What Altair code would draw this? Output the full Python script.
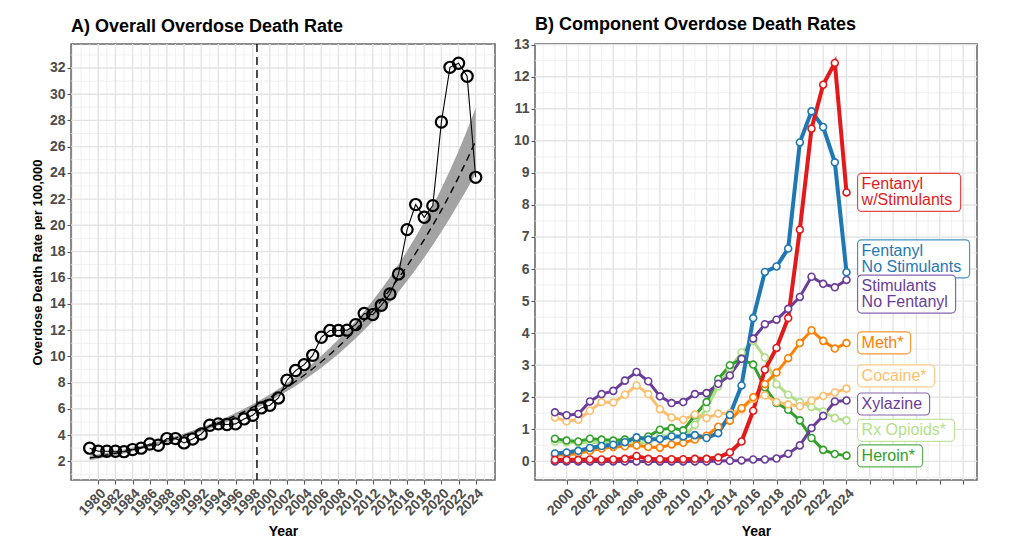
import altair as alt
import pandas as pd

FONT = "Liberation Sans"

# ---------------- Panel A data ----------------
years_a = list(range(1979, 2025))
overall_rate = [3.0, 2.76, 2.76, 2.76, 2.73, 2.89, 3.0, 3.32, 3.22, 3.73, 3.73, 3.40,
                3.70, 4.08, 4.75, 4.85, 4.80, 4.85, 5.23, 5.51, 6.07, 6.27, 6.83, 8.18,
                8.92, 9.37, 10.08, 11.46, 11.97, 11.97, 12.0, 12.42, 13.27, 13.19, 13.9,
                14.76, 16.29, 19.67, 21.58, 20.61, 21.5, 27.88, 32.05, 32.36, 31.37, 23.66]
trend_rate = [2.25, 2.36, 2.48, 2.61, 2.75, 2.9, 3.05, 3.22, 3.39, 3.57, 3.77, 3.97,
              4.19, 4.42, 4.66, 4.92, 5.19, 5.48, 5.79, 6.12, 6.47, 6.84, 7.23, 7.65,
              8.09, 8.56, 9.06, 9.59, 10.15, 10.74, 11.37, 12.03, 12.73, 13.47, 14.25,
              15.08, 15.96, 16.89, 17.87, 18.91, 20.0, 21.15, 22.37, 23.66, 25.02, 26.45]
ribbon_half = [0.18, 0.17, 0.16, 0.15, 0.15, 0.14, 0.14, 0.14, 0.14, 0.14, 0.14, 0.15,
               0.15, 0.16, 0.17, 0.18, 0.19, 0.2, 0.21, 0.22, 0.24, 0.26, 0.28, 0.31,
               0.34, 0.37, 0.41, 0.45, 0.5, 0.55, 0.6, 0.66, 0.72, 0.79, 0.87,
               0.95, 1.04, 1.14, 1.25, 1.37, 1.5, 1.65, 1.82, 2.0, 2.25, 2.5]
vline_year = [1998.5]

# ---------------- Panel B data ----------------
years_b = list(range(1999, 2025))
fent_stim = [0.05, 0.05, 0.05, 0.06, 0.06, 0.06, 0.08, 0.17, 0.08, 0.07, 0.07, 0.07, 0.08,
             0.08, 0.12, 0.28, 0.62, 1.58, 2.86, 3.54, 4.47, 7.23, 10.38, 11.75, 12.43, 8.39]
fent_nostim = [0.25, 0.28, 0.33, 0.42, 0.48, 0.52, 0.6, 0.75, 0.68, 0.7, 0.78, 0.78, 0.82,
               0.73, 0.88, 1.45, 2.37, 4.47, 5.91, 6.08, 6.64, 9.95, 10.92, 10.43, 9.33, 5.9]
stim_nofent = [1.53, 1.44, 1.48, 1.87, 2.10, 2.20, 2.52, 2.79, 2.50, 2.03, 1.82, 1.85, 2.10,
               2.13, 2.42, 2.68, 3.2, 3.83, 4.28, 4.42, 4.76, 5.13, 5.76, 5.54, 5.43, 5.66]
meth = [0.21, 0.2, 0.25, 0.33, 0.4, 0.45, 0.47, 0.5, 0.45, 0.43, 0.53, 0.58, 0.68,
        0.8, 1.08, 1.27, 1.66, 2.0, 2.41, 2.77, 3.22, 3.69, 4.09, 3.76, 3.52, 3.69]
cocaine = [1.37, 1.25, 1.3, 1.58, 1.85, 1.84, 2.08, 2.37, 2.1, 1.63, 1.37, 1.3, 1.46,
           1.35, 1.49, 1.5, 1.62, 1.95, 2.06, 1.85, 1.78, 1.72, 1.9, 2.04, 2.15, 2.27]
xylazine = [0.0, 0.0, 0.0, 0.0, 0.0, 0.0, 0.0, 0.0, 0.0, 0.0, 0.0, 0.0, 0.0,
            0.0, 0.01, 0.02, 0.03, 0.06, 0.06, 0.09, 0.24, 0.5, 1.04, 1.42, 1.87, 1.9]
rx_opioids = [0.62, 0.6, 0.58, 0.6, 0.58, 0.56, 0.55, 0.56, 0.6, 0.78, 0.82, 0.72, 1.14,
              1.66, 2.34, 2.91, 3.4, 3.76, 3.24, 2.41, 2.08, 1.85, 1.7, 1.56, 1.35, 1.28]
heroin = [0.71, 0.65, 0.62, 0.71, 0.68, 0.65, 0.68, 0.68, 0.78, 0.99, 1.04, 0.97, 1.44,
          1.85, 2.57, 3.0, 3.2, 3.02, 2.31, 1.82, 1.61, 1.28, 0.73, 0.36, 0.23, 0.18]

series_values = [rx_opioids, heroin, cocaine, meth, xylazine, stim_nofent, fent_nostim, fent_stim]
series_colors = ["#B2DF8A", "#33A02C", "#FDBF6F", "#FF7F00", "#6A3D9A", "#6A3D9A", "#1F78B4", "#E31A1C"]
series_widths = [3, 3, 3, 3, 3, 3, 4, 4]

label_text = ["Fentanyl\nw/Stimulants", "Fentanyl\nNo Stimulants", "Stimulants\nNo Fentanyl",
              "Meth*", "Cocaine*", "Xylazine", "Rx Opioids*", "Heroin*"]
label_colors = ["#E31A1C", "#1F78B4", "#6A3D9A", "#FF7F00", "#FDBF6F", "#6A3D9A", "#B2DF8A", "#33A02C"]
label_y = [8.39, 6.32, 5.22, 3.70, 2.67, 1.79, 0.97, 0.17]
label_box_w = [103, 112, 98, 53, 77, 72, 97, 65]
label_box_h = [38, 38, 38, 22, 22, 22, 22, 22]
label_x = 2024.95

# ---------------- layout ----------------
WA, WB, H = 424, 442, 436
xa_dom = [1976.82, 2026.25]
ya_dom = [0.57, 33.83]
xb_dom = [1997.29, 2035.19]
yb_dom = [-0.58, 13.02]

MAJ = "#E4E4E4"
MIN = "#EEEEEE"

xa_scale = alt.Scale(domain=xa_dom, nice=False, zero=False)
ya_scale = alt.Scale(domain=ya_dom, nice=False, zero=False)
xb_scale = alt.Scale(domain=xb_dom, nice=False, zero=False)
yb_scale = alt.Scale(domain=yb_dom, nice=False, zero=False)

xa_axis = alt.Axis(values=list(range(1980, 2025, 2)), format="d", labelAngle=315,
                   labelAlign="right", labelBaseline="top", title="Year", labelOverlap=False)
ya_axis = alt.Axis(values=list(range(2, 33, 2)), title="Overdose Death Rate per 100,000",
                   titlePadding=5, labelOverlap=False)
xb_axis = alt.Axis(values=list(range(2000, 2035, 2)), format="d", labelAngle=315,
                   labelAlign="right", labelBaseline="top", title="Year", labelOverlap=False,
                   labelExpr="datum.value <= 2024 ? datum.label : ''")
yb_axis = alt.Axis(values=list(range(0, 14)), title=None, labelOverlap=False)


def XA(f):
    return alt.X(f, type="quantitative", scale=xa_scale, axis=xa_axis)


def YA(f):
    return alt.Y(f, type="quantitative", scale=ya_scale, axis=ya_axis)


def XB(f):
    return alt.X(f, type="quantitative", scale=xb_scale, axis=xb_axis)


def YB(f):
    return alt.Y(f, type="quantitative", scale=yb_scale, axis=yb_axis)


def grid(X, Y, xmaj, xmin, ymaj, ymin):
    layers = []
    for vals, col, w, is_x in [(xmin, MIN, 0.8, True), (ymin, MIN, 0.8, False),
                               (xmaj, MAJ, 1.4, True), (ymaj, MAJ, 1.4, False)]:
        d = pd.DataFrame({"v": vals})
        m = alt.Chart(d).mark_rule(color=col, strokeWidth=w)
        layers.append(m.encode(x=X("v")) if is_x else m.encode(y=Y("v")))
    return layers


# ---------------- Panel A ----------------
df_a = pd.DataFrame({
    "year": years_a,
    "rate": overall_rate,
    "trend": trend_rate,
    "lo": [t - h for t, h in zip(trend_rate, ribbon_half)],
    "hi": [t + h for t, h in zip(trend_rate, ribbon_half)],
})
xa_major = list(range(1980, 2025, 2))
xa_minor = [v for v in range(1977, 2027) if v not in xa_major]
ya_major = list(range(2, 33, 2))
ya_minor = [v for v in range(1, 34) if v not in ya_major]

base_a = alt.Chart(df_a)
ribbon = base_a.mark_area(color="#A3A3A3", opacity=1).encode(x=XA("year"), y=YA("lo"), y2="hi")
trend = base_a.mark_line(color="black", strokeWidth=1.4, strokeDash=[7, 5]).encode(x=XA("year"), y=YA("trend"))
vline = alt.Chart(pd.DataFrame({"v": vline_year})).mark_rule(
    color="black", strokeWidth=1.4, strokeDash=[8, 5]).encode(x=XA("v"))
line_a = base_a.mark_line(color="black", strokeWidth=1.1).encode(x=XA("year"), y=YA("rate"))
pts_a = base_a.mark_point(shape="circle", filled=False, size=125, strokeWidth=2.2,
                          color="black", opacity=1).encode(x=XA("year"), y=YA("rate"))

panel_a = alt.layer(
    *grid(XA, YA, xa_major, xa_minor, ya_major, ya_minor),
    ribbon, trend, vline, line_a, pts_a
).properties(
    width=WA, height=H,
    title=alt.TitleParams("A) Overall Overdose Death Rate", anchor="start", frame="group",
                          fontSize=18, font=FONT, fontWeight="bold", color="black", offset=7)
)

# ---------------- Panel B ----------------
xb_major = list(range(2000, 2035, 2))
xb_minor = [v for v in range(1998, 2036) if v not in xb_major]
yb_major = list(range(0, 14))
yb_minor = [v + 0.5 for v in range(-1, 13)]

line_layers, point_layers = [], []
for vals, col, w in zip(series_values, series_colors, series_widths):
    d = pd.DataFrame({"year": years_b, "value": vals})
    line_layers.append(alt.Chart(d).mark_line(color=col, strokeWidth=w).encode(
        x=XB("year"), y=YB("value")))
    point_layers.append(alt.Chart(d).mark_point(
        shape="circle", filled=True, fill="white", stroke=col, strokeWidth=1.6,
        size=48, opacity=1).encode(x=XB("year"), y=YB("value")))

px_per_year = WB / (xb_dom[1] - xb_dom[0])
px_per_unit = H / (yb_dom[1] - yb_dom[0])
df_lab = pd.DataFrame({
    "txt": label_text,
    "col": label_colors,
    "lines": [t.count("\n") + 1 for t in label_text],
    "lx": [label_x] * len(label_text),
    "lx2": [label_x + w / px_per_year for w in label_box_w],
    "ly": label_y,
    "ly1": [y - h / 2 / px_per_unit for y, h in zip(label_y, label_box_h)],
    "ly2": [y + h / 2 / px_per_unit for y, h in zip(label_y, label_box_h)],
})
boxes = alt.Chart(df_lab).mark_rect(fill="white", cornerRadius=4, strokeWidth=1.2,
                                    strokeOpacity=0.8).encode(
    x=XB("lx"), x2="lx2", y=YB("ly1"), y2="ly2", stroke=alt.Stroke("col:N", scale=None))
text_layers = []
for n, dy in [(1, 0), (2, -8)]:
    text_layers.append(
        alt.Chart(df_lab[df_lab["lines"] == n]).mark_text(
            align="left", baseline="middle", dx=4, dy=dy, fontSize=16,
            lineBreak="\n", lineHeight=16, font=FONT).encode(
            x=XB("lx"), y=YB("ly"), text="txt:N", color=alt.Color("col:N", scale=None)))

panel_b = alt.layer(
    *grid(XB, YB, xb_major, xb_minor, yb_major, yb_minor),
    *line_layers, *point_layers, boxes, *text_layers
).properties(
    width=WB, height=H,
    title=alt.TitleParams("B) Component Overdose Death Rates", anchor="start", frame="group",
                          fontSize=18, font=FONT, fontWeight="bold", color="black", offset=4)
)

chart = alt.hconcat(panel_a, panel_b, spacing=15).properties(
    padding={"left": 30, "top": 14, "right": 5, "bottom": 5}
).configure_view(
    stroke="#6b6b6b", strokeWidth=1.6
).configure_axis(
    grid=False, domain=False, tickColor="#555555", tickSize=4, tickWidth=1.1,
    labelFont=FONT, labelFontSize=14, labelFontWeight="bold", labelColor="#4D4D4D",
    labelPadding=2, titleFont=FONT, titleFontSize=14, titleFontWeight="bold",
    titleColor="black", titlePadding=7
).configure_axisY(
    titleFontSize=13
)

chart.save("out.html", embed_options={"renderer": "svg", "actions": False})
